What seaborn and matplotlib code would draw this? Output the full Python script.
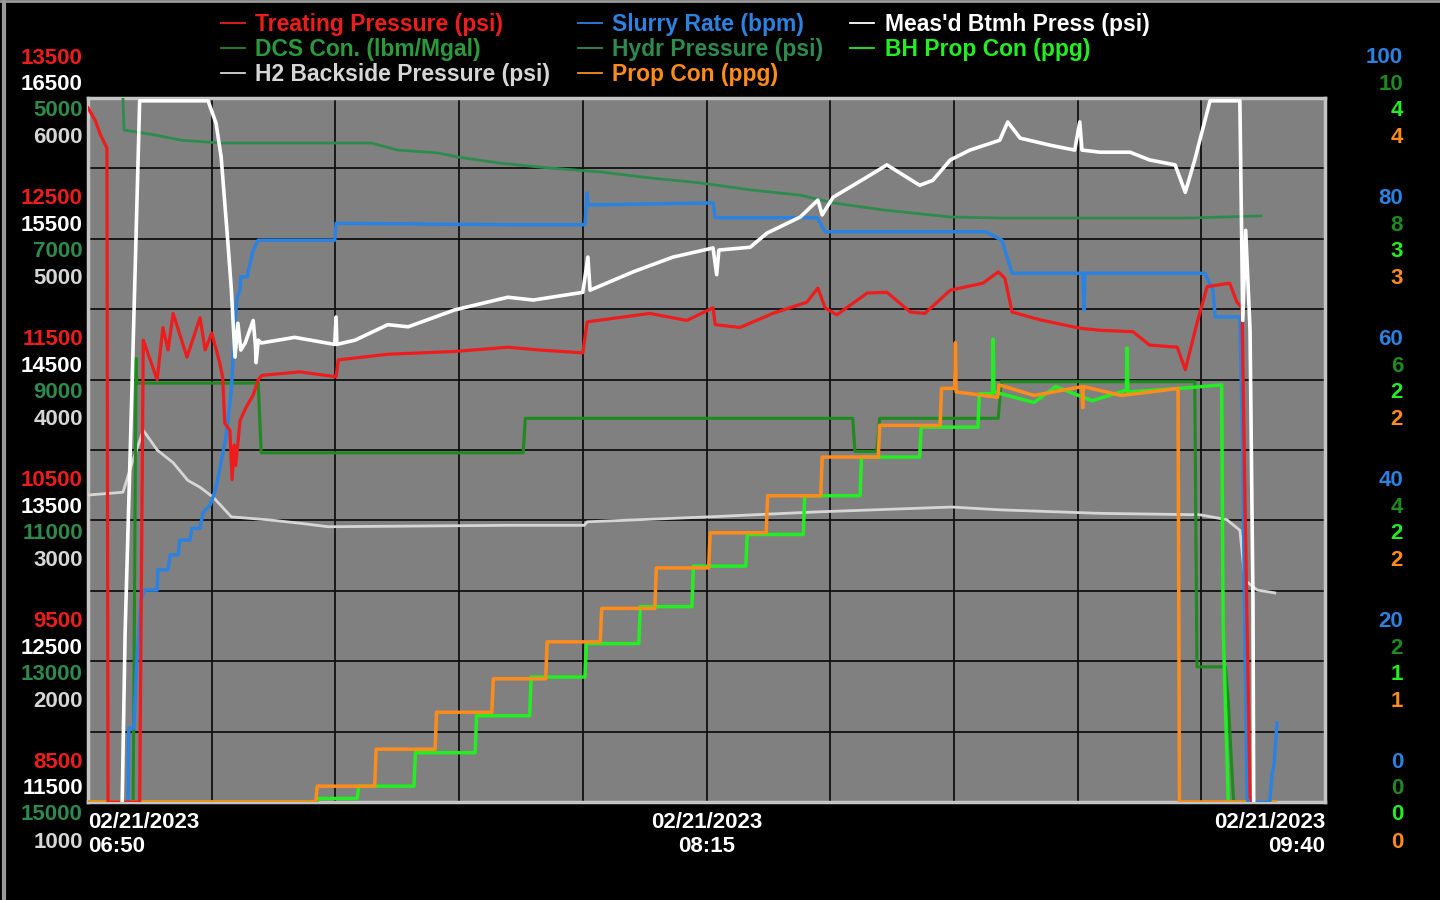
import matplotlib
matplotlib.use("Agg")
import matplotlib.pyplot as plt
from matplotlib.lines import Line2D
from matplotlib.font_manager import FontProperties
import numpy as np
import pandas as pd
import seaborn as sns

# ---------------- data (x = minutes after 02/21/2023 06:50) ----------------
x_range = (0, 170)
x_label_minutes = [0, 85, 170]
x_ticklabels = ["02/21/2023\n06:50", "02/21/2023\n08:15", "02/21/2023\n09:40"]

treating = [(0, 13430), (1.0, 13340), (1.7, 13240), (2.6, 13145), (2.75, 8500), (7.1, 8500),
            (7.6, 11780), (9.5, 11500), (10.3, 11870), (11.0, 11710), (11.7, 11970), (13.6, 11660),
            (15.4, 11940), (16.1, 11710), (17.0, 11830), (18.1, 11620), (18.5, 11520), (18.8, 11190),
            (19.5, 11140), (19.8, 10790), (20.1, 11035), (20.3, 10890), (20.9, 11210), (21.7, 11300),
            (22.3, 11355), (22.7, 11390), (23.4, 11500), (23.9, 11530), (29.1, 11555), (34.1, 11520),
            (34.4, 11640), (41.2, 11680), (50.4, 11700), (57.7, 11730), (62.1, 11710), (68.0, 11690),
            (68.6, 11910), (77.2, 11970), (82.3, 11920), (85.9, 12010), (86.2, 11890), (89.6, 11870),
            (94.1, 11970), (98.8, 12050), (100.3, 12150), (101.3, 12010), (102.9, 11960), (107.1, 12115),
            (109.8, 12120), (113.0, 11980), (115.0, 11970), (118.5, 12135), (123.0, 12185), (125.1, 12265),
            (126.0, 12220), (127.0, 11980), (130.8, 11925), (136.3, 11865), (139.1, 11850), (143.6, 11840),
            (145.9, 11745), (149.7, 11730), (150.8, 11570), (152.4, 11900), (153.8, 12160), (156.9, 12185),
            (157.9, 12050), (158.6, 12010), (159.0, 10645), (159.7, 8535), (160.0, 8500)]

btmh = [(4.7, 11500), (5.1, 12700), (6.0, 14355), (7.1, 16480), (16.5, 16480), (17.6, 16320),
        (18.3, 16080), (19.2, 15490), (19.7, 15140), (20.2, 14660), (20.6, 14900), (21.0, 14710),
        (21.6, 14760), (22.7, 14920), (23.0, 14750), (23.1, 14620), (23.4, 14780), (23.8, 14760),
        (28.4, 14800), (33.9, 14750), (34.1, 14945), (34.2, 14750), (36.7, 14780), (41.2, 14890),
        (44.0, 14875), (50.4, 14995), (57.7, 15085), (61.2, 15065), (68.0, 15120), (68.7, 15370),
        (69.0, 15135), (74.9, 15265), (80.4, 15370), (85.9, 15435), (86.4, 15245), (86.7, 15420),
        (91.0, 15440), (93.3, 15540), (97.9, 15655), (100.3, 15775), (100.9, 15670), (102.4, 15795),
        (107.1, 15940), (109.8, 16025), (114.3, 15880), (116.1, 15915), (118.5, 16060), (121.2, 16130),
        (125.3, 16200), (126.4, 16330), (128.1, 16215), (132.2, 16165), (135.6, 16130), (136.3, 16330),
        (136.6, 16130), (139.1, 16115), (143.2, 16115), (145.9, 16060), (149.4, 16025), (150.8, 15830),
        (152.1, 16060), (154.2, 16480), (158.3, 16480), (158.7, 14920), (159.1, 15560), (159.7, 14850),
        (160.1, 12935), (160.2, 11500)]

hydr = [(4.8, 5000), (4.95, 5455), (9.2, 5525), (12.8, 5600), (18.3, 5640), (38.9, 5640), (42.6, 5740),
        (48.1, 5780), (50.9, 5840), (56.6, 5925), (63.5, 5995), (70.4, 6050), (77.2, 6135), (84.1, 6205),
        (91.0, 6305), (97.9, 6380), (102.4, 6490), (109.3, 6590), (118.5, 6690), (125.3, 6705),
        (151.3, 6705), (161.2, 6675)]

h2_backside = [(0, 3180), (4.8, 3200), (6.2, 3430), (7.6, 3640), (9.5, 3500), (11.7, 3410), (13.7, 3285),
               (15.4, 3235), (17.2, 3165), (19.7, 3025), (24.6, 3005), (29.1, 2980), (33.0, 2955),
               (57.7, 2965), (68.2, 2965), (68.6, 2990), (85.3, 3025), (100.0, 3060), (118.7, 3095),
               (125.3, 3075), (139.1, 3050), (152.8, 3040), (156.5, 3005), (158.3, 2930), (159.0, 2575),
               (160.7, 2505), (163.1, 2485)]

slurry = [(5.5, 0), (5.6, 10.5), (6.3, 10.5), (6.7, 19.7), (7.3, 28.7), (7.8, 30.1), (9.5, 30.1),
          (9.6, 33.0), (11.0, 33.0), (11.3, 35.1), (12.4, 35.1), (12.6, 37.2), (14.0, 37.2), (14.3, 38.9),
          (15.4, 38.9), (15.8, 41.1), (16.8, 42.2), (17.5, 44.3), (18.1, 47.2), (19.0, 52.1), (19.7, 58.5),
          (20.2, 68.5), (20.5, 71.7), (20.9, 72.7), (21.0, 74.6), (21.9, 74.6), (22.0, 75.3), (22.4, 77.0),
          (22.7, 78.4), (23.4, 79.8), (33.9, 79.8), (34.1, 82.2), (57.7, 82.0), (68.3, 82.0), (68.6, 86.5),
          (68.7, 84.8), (85.9, 85.1), (86.2, 83.0), (100.2, 83.0), (101.3, 81.0), (123.4, 81.0),
          (125.6, 79.8), (127.0, 75.1), (136.7, 75.1), (136.9, 69.9), (137.0, 75.1), (153.5, 75.1),
          (154.6, 72.7), (154.9, 68.9), (158.3, 68.9), (158.7, 50.0), (159.0, 22.6), (159.3, 0.7),
          (159.4, 0), (162.4, 0), (162.7, 3.8), (163.0, 5.3), (163.4, 11.2)]

dcs_con = [(0, 0), (6.2, 0), (6.3, 1.45), (6.6, 6.3), (6.7, 5.95), (23.4, 5.95), (23.8, 4.96),
           (59.8, 4.96), (60.1, 5.45), (105.1, 5.45), (105.4, 4.98), (108.4, 4.98), (108.8, 5.45),
           (125.1, 5.45), (125.5, 5.97), (152.1, 5.97), (152.4, 1.92), (156.3, 1.92), (156.7, 1.45),
           (157.4, 0.07), (157.5, 0), (163.0, 0)]

prop_con = [(0, 0), (31.3, 0), (31.5, 0.09), (39.4, 0.09), (39.6, 0.30), (47.7, 0.30), (47.9, 0.51),
            (55.5, 0.51), (55.7, 0.70), (62.9, 0.70), (63.1, 0.91), (70.4, 0.91), (70.6, 1.10),
            (77.9, 1.10), (78.1, 1.33), (85.3, 1.33), (85.5, 1.53), (93.2, 1.53), (93.4, 1.74),
            (100.7, 1.74), (100.9, 1.96), (108.6, 1.96), (108.8, 2.14), (117.1, 2.14), (117.3, 2.35),
            (119.1, 2.35), (119.2, 2.61), (119.3, 2.33), (125.0, 2.30), (125.2, 2.37), (130.0, 2.31),
            (136.6, 2.36), (136.7, 2.24), (136.8, 2.36), (142.0, 2.31), (146.0, 2.33), (149.8, 2.35),
            (150.0, 0), (163.1, 0)]

bh_prop_con = [(0, 0), (31.5, 0), (31.6, 0.02), (37.0, 0.02), (37.2, 0.09), (44.8, 0.09), (45.0, 0.28),
               (53.2, 0.28), (53.4, 0.49), (60.7, 0.49), (60.9, 0.71), (68.3, 0.71), (68.5, 0.90),
               (75.7, 0.90), (75.9, 1.11), (83.0, 1.11), (83.2, 1.34), (90.4, 1.34), (90.6, 1.52),
               (98.3, 1.52), (98.5, 1.74), (106.1, 1.74), (106.3, 1.96), (114.3, 1.96), (114.5, 2.13),
               (122.3, 2.13), (122.5, 2.32), (124.3, 2.32), (124.4, 2.63), (124.5, 2.33), (130.0, 2.27),
               (133.0, 2.36), (138.0, 2.28), (142.7, 2.34), (142.8, 2.58), (142.9, 2.33), (150.0, 2.35),
               (155.8, 2.37), (156.0, 1.0), (156.7, 0), (163.1, 0)]

# axis ranges (bottom, top) and printed tick labels (top -> bottom)
treating_range, treating_ticks = (8500, 13500), ["13500", "12500", "11500", "10500", "9500", "8500"]
btmh_range, btmh_ticks = (11500, 16500), ["16500", "15500", "14500", "13500", "12500", "11500"]
hydr_range, hydr_ticks = (15000, 5000), ["5000", "7000", "9000", "11000", "13000", "15000"]
h2_range, h2_ticks = (1000, 6000), ["6000", "5000", "4000", "3000", "2000", "1000"]
slurry_range, slurry_ticks = (0, 100), ["100", "80", "60", "40", "20", "0"]
dcs_range, dcs_ticks = (0, 10), ["10", "8", "6", "4", "2", "0"]
bh_range, bh_ticks = (0, 4), ["4", "3", "2", "2", "1", "0"]
prop_range, prop_ticks = (0, 4), ["4", "3", "2", "2", "1", "0"]

# ---------------- styling ----------------
RED = "#ee1c1c"
BLUE = "#2b82e0"
WHITE = "#ffffff"
DKGREEN = "#1f8a1f"
SEAGREEN = "#2e8b4e"
LIME = "#22ee22"
LTGRAY = "#d6d6d6"
ORANGE = "#ff8c1a"

W, H = 1440, 900
L, R, T, B = 88, 1325, 98, 802
font = FontProperties(family=["Liberation Sans", "DejaVu Sans"], weight="bold", size=16)
legend_font = FontProperties(family=["Liberation Sans", "DejaVu Sans"], weight="bold", size=16.5)

fig = plt.figure(figsize=(W / 100, H / 100), dpi=100, facecolor="black")
ax = fig.add_axes([L / W, (H - B) / H, (R - L) / W, (B - T) / H])
ax.set_facecolor("#808080")
ax.set_ylim(0, 10)
ax.set_yticks(np.arange(0, 11, 1))
ax.set_xticks(np.linspace(x_range[0], x_range[1], 11))
ax.grid(True, color="#111111", linewidth=1.3)
ax.set_axisbelow(True)
ax.tick_params(length=0, labelleft=False, pad=7)
for s in ax.spines.values():
    s.set_color("#c4c4c4")
    s.set_linewidth(2.5)

handles = {}


def draw(name, data, rng, color, lw, ticks=None, side=None, dy=0):
    a = ax.twinx()
    df = pd.DataFrame(data, columns=["t", "v"])
    sns.lineplot(data=df, x="t", y="v", ax=a, color=color, linewidth=lw,
                 estimator=None, sort=False, legend=False)
    a.set_ylim(*rng)
    a.set_axis_off()
    handles[name] = Line2D([], [], color=color, linewidth=1.3)
    if ticks is not None:
        pos = np.linspace(rng[1], rng[0], len(ticks))
        xf, xo = (0, -5) if side == "left" else (1, 78)
        for p, lab in zip(pos, ticks):
            a.annotate(lab, xy=(xf, p), xycoords=("axes fraction", "data"),
                       xytext=(xo, dy), textcoords="offset pixels",
                       ha="right", va="center", color=color, fontproperties=font,
                       annotation_clip=False)
    return a


draw("Hydr Pressure (psi)", hydr, hydr_range, SEAGREEN, 2.0, hydr_ticks, "left", -13)
draw("H2 Backside Pressure (psi)", h2_backside, h2_range, LTGRAY, 2.0, h2_ticks, "left", -40)
draw("DCS Con. (lbm/Mgal)", dcs_con, dcs_range, DKGREEN, 2.2, dcs_ticks, "right", 13)
draw("BH Prop Con (ppg)", bh_prop_con, bh_range, LIME, 2.5, bh_ticks, "right", -13)
draw("Prop Con (ppg)", prop_con, prop_range, ORANGE, 2.5, prop_ticks, "right", -40)
draw("Slurry Rate (bpm)", slurry, slurry_range, BLUE, 2.5, slurry_ticks, "right", 40)
draw("Treating Pressure (psi)", treating, treating_range, RED, 2.3, treating_ticks, "left", 40)
draw("Meas'd Btmh Press (psi)", btmh, btmh_range, WHITE, 2.6, btmh_ticks, "left", 13)

ax.set_xlim(*x_range)
labels = [""] * 11
for m, lab in zip(x_label_minutes, x_ticklabels):
    labels[int(round((m - x_range[0]) / (x_range[1] - x_range[0]) * 10))] = lab
ax.set_xticklabels(labels, color="white", fontproperties=font, linespacing=1.2)
tl = ax.get_xticklabels()
tl[0].set_horizontalalignment("left")
tl[-1].set_horizontalalignment("right")

order = ["Treating Pressure (psi)", "DCS Con. (lbm/Mgal)", "H2 Backside Pressure (psi)",
         "Slurry Rate (bpm)", "Hydr Pressure (psi)", "Prop Con (ppg)",
         "Meas'd Btmh Press (psi)", "BH Prop Con (ppg)"]
text_colors = {"Treating Pressure (psi)": RED, "DCS Con. (lbm/Mgal)": "#2a9a3a",
               "H2 Backside Pressure (psi)": LTGRAY, "Slurry Rate (bpm)": BLUE,
               "Hydr Pressure (psi)": SEAGREEN, "Prop Con (ppg)": ORANGE,
               "Meas'd Btmh Press (psi)": WHITE, "BH Prop Con (ppg)": LIME}
leg = fig.legend([handles[n] for n in order], order, ncol=3, loc="upper left",
                 bbox_to_anchor=(221 / W, 1 - 13 / H), frameon=False, prop=legend_font,
                 handlelength=1.05, handletextpad=0.44, columnspacing=1.2,
                 labelspacing=0.08, borderpad=0, borderaxespad=0)
for txt, n in zip(leg.get_texts(), order):
    txt.set_color(text_colors[n])

fig.add_artist(Line2D([0.003, 0.003], [0, 1], transform=fig.transFigure, color="#9a9a9a", lw=3))
fig.add_artist(Line2D([0, 1], [0.999, 0.999], transform=fig.transFigure, color="#9a9a9a", lw=2))

fig.savefig("out.png", dpi=100, facecolor="black")
